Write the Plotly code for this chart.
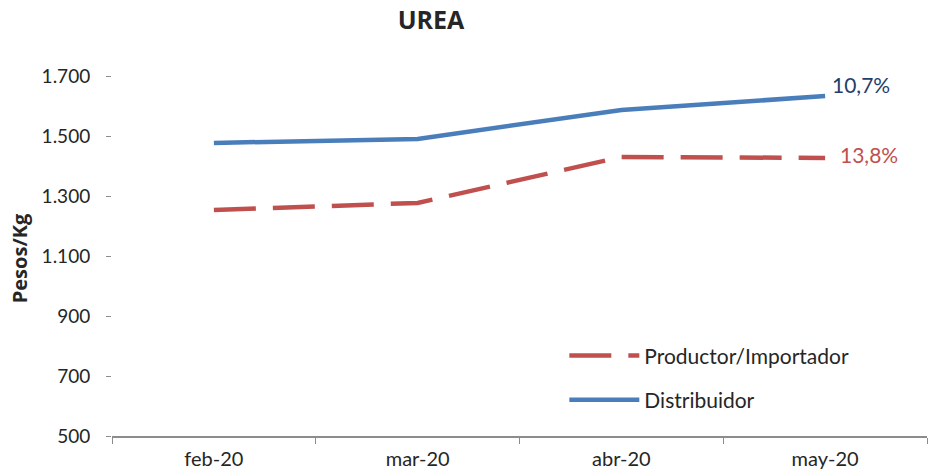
import plotly.graph_objects as go

months = ["feb-20", "mar-20", "abr-20", "may-20"]
productor = [1253, 1277, 1430, 1427]
distribuidor = [1477, 1490, 1587, 1633]
var_labels = {"Distribuidor": "10,7%", "Productor/Importador": "13,8%"}
y_ticks = [500, 700, 900, 1100, 1300, 1500, 1700]

FONT = "Lato"
BOLD_FONT = "Open Sans"
RED = "#C0504D"
BLUE = "#4A7EBB"

fig = go.Figure()
fig.add_trace(go.Scatter(
    x=months, y=productor, name="Productor/Importador", mode="lines", legendgroup="p",
    line=dict(color=RED, width=4.5, dash="42px,17px"),
))
fig.add_trace(go.Scatter(
    x=months, y=distribuidor, name="Distribuidor", mode="lines", legendgroup="d",
    line=dict(color=BLUE, width=4.5),
))

fig.add_annotation(x=months[-1], y=distribuidor[-1], text=var_labels["Distribuidor"],
                   showarrow=False, xanchor="left", yanchor="middle", xshift=5, yshift=12,
                   font=dict(family=FONT, size=21, color="#1F3E6A"))
fig.add_annotation(x=months[-1], y=productor[-1], text=var_labels["Productor/Importador"],
                   showarrow=False, xanchor="left", yanchor="middle", xshift=13, yshift=3,
                   font=dict(family=FONT, size=21, color=RED))
# y-axis title (placed off-centre, as in the original)
fig.add_annotation(xref="paper", yref="paper", x=-0.114, y=0.456, text="<b>Pesos/Kg</b>",
                   textangle=-90, showarrow=False, xanchor="center", yanchor="middle",
                   font=dict(family=BOLD_FONT, size=20, color="#262626"))

fig.update_layout(
    width=928, height=472,
    margin=dict(l=112, r=1, t=46, b=36),
    paper_bgcolor="white", plot_bgcolor="white",
    separators=",.",
    title=dict(text="<b>UREA</b>", x=0.4645, xanchor="center", y=0.958, yanchor="middle",
               font=dict(family=BOLD_FONT, size=25, color="#262626")),
    font=dict(family=FONT, color="#262626"),
    showlegend=True,
    legend=dict(x=0.555, y=0.258, xanchor="left", yanchor="top", bgcolor="rgba(0,0,0,0)",
                font=dict(family=FONT, size=21, color="#262626"),
                itemwidth=70, tracegroupgap=14, traceorder="grouped"),
    xaxis=dict(type="category", tickson="boundaries", range=[-0.5, 3.5], automargin=False,
               showline=True, linecolor="#8C8C8C", linewidth=1.5,
               ticks="outside", ticklen=6, tickcolor="#8C8C8C", ticklabelstandoff=4,
               showgrid=False, zeroline=False,
               tickfont=dict(family=FONT, size=20, color="#262626")),
    yaxis=dict(range=[500, 1800], tickvals=y_ticks, tickformat=",d", automargin=False,
               showline=False, showgrid=False, zeroline=False,
               ticks="outside", ticklen=5, tickcolor="#8C8C8C", ticklabelstandoff=12,
               tickfont=dict(family=FONT, size=19, color="#262626")),
)

fig.write_html("out.html", config={"displayModeBar": False},
               post_script="document.body.style.margin='0';document.body.style.padding='0';")
